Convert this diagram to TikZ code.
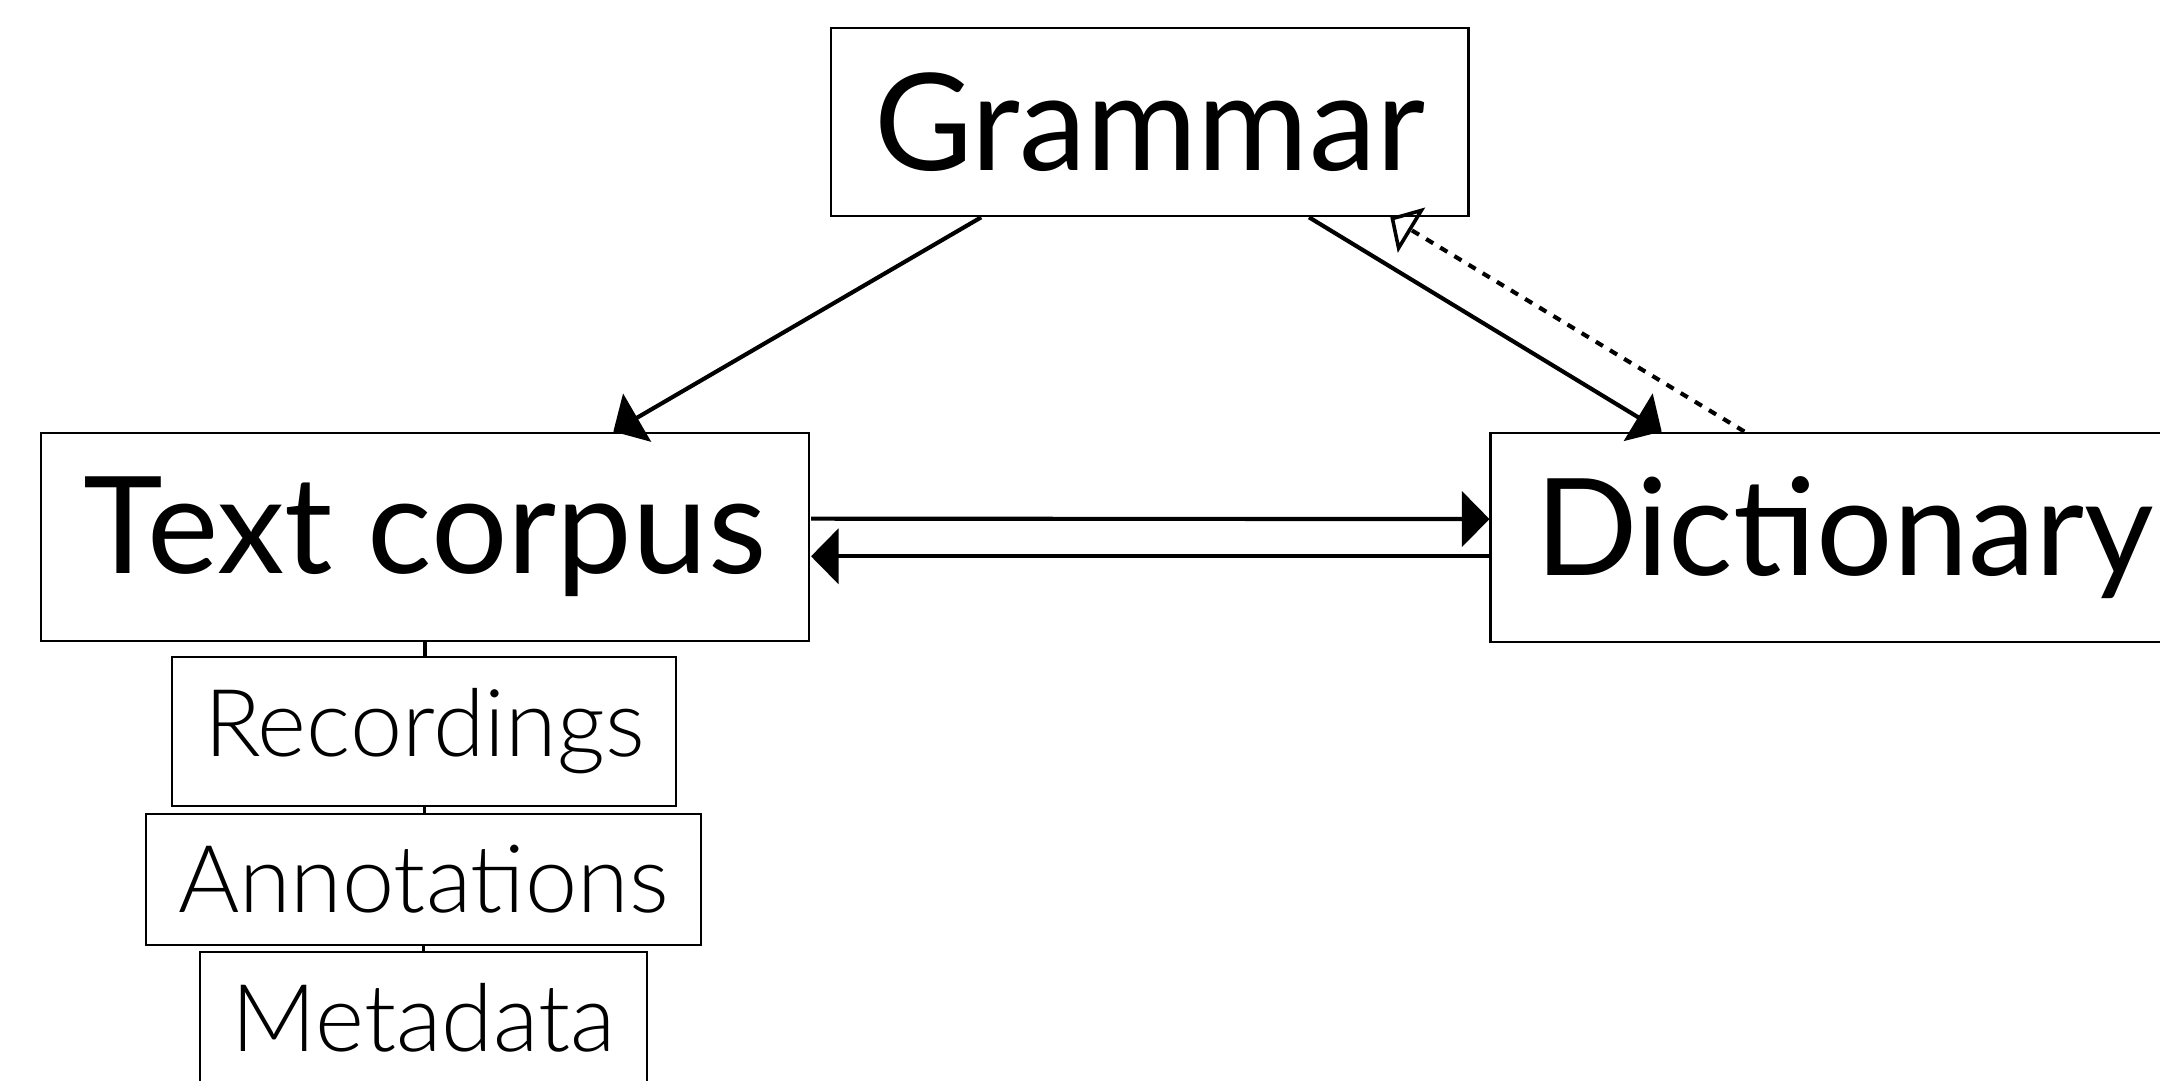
\documentclass[tikz,border=0pt]{standalone}
\usepackage{fontspec}
\setmainfont{Lato}
\newfontfamily\lightfont{Lato Light}
\usetikzlibrary{arrows.meta,calc}
\begin{document}
\begin{tikzpicture}[x=0.5pt,y=-0.5pt,
  box/.style={draw=black,line width=0.75pt,rectangle,inner sep=0pt,align=center},
  bigbox/.style={box,font=\fontsize{49}{56}\selectfont},
  smallbox/.style={box,font=\lightfont\fontsize{34}{40}\selectfont},
  arr/.style={line width=1.5pt,-{Triangle[length=10pt,width=20pt]}},
  link/.style={line width=1.2pt},
  dep/.style={line width=1.5pt,dash pattern=on 3pt off 3pt,-{Triangle[open,length=9pt,width=19pt,line width=1.3pt]}}]
\useasboundingbox (0,0) rectangle (1568,784);
\node[bigbox,minimum width=231.5pt,minimum height=68.5pt] (gr) at (834.5,88.5) {Grammar};
\node[bigbox,minimum width=278.5pt,minimum height=75.5pt] (tc) at (308.5,389.5) {Text corpus};
\node[bigbox,minimum width=257pt,minimum height=76pt] (dc) at (1339,390) {Dictionary};
\node[smallbox,minimum width=183pt,minimum height=54pt] (rec) at (308,531) {Recordings};
\node[smallbox,minimum width=201.5pt,minimum height=47.5pt] (ann) at (307.5,638.5) {Annotations};
\node[smallbox,minimum width=162.5pt,minimum height=48pt] (meta) at (307.5,739) {Metadata};
% sub-box links
\draw[link] (tc.south) -- (tc.south |- rec.north);
\draw[link] (rec.south) -- (rec.south |- ann.north);
\draw[link] (ann.south) -- (ann.south |- meta.north);
% diagonal arrows
\draw[arr] ($(gr.south west)+(110,0)$) -- ($(tc.north west)+(416,0)$);
\draw[arr] ($(gr.south west)+(348,0)$) -- ($(dc.north west)+(125,0)$);
\draw[dep] ($(dc.north west)+(185,0)$) -- ($(gr.south west)+(407,0)$);
% horizontal arrows
\draw[arr] ($(tc.east)+(1,-13)$) -- ($(dc.west)+(0,-13.2)$);
\draw[arr] ($(dc.west)+(0,13.8)$) -- ($(tc.east)+(1,14.3)$);
\end{tikzpicture}
\end{document}
